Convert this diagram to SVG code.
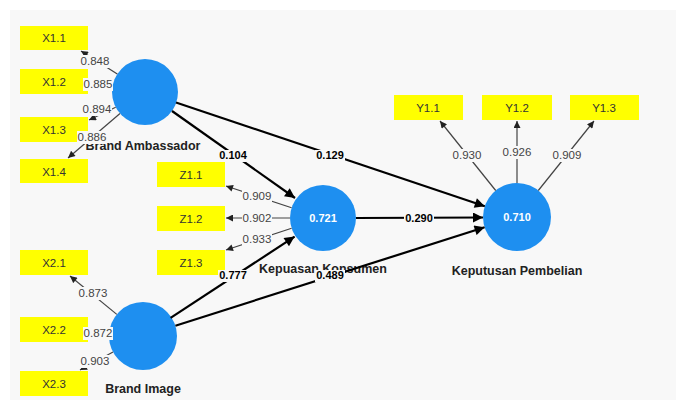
<svg xmlns="http://www.w3.org/2000/svg" width="679" height="412" viewBox="0 0 679 412">
<style>
.bg{fill:#ffffff}
.panel{fill:#f8f8f8}
.ind rect{fill:#ffff00}
.ind text{font-family:"Liberation Sans",Arial,sans-serif;font-size:11.5px;fill:#333;text-anchor:middle}
.lat circle{fill:#1e8ff0}
.lat .val{font-family:"Liberation Sans",Arial,sans-serif;font-size:11px;font-weight:bold;fill:#fff;text-anchor:middle}
.lat .name{font-family:"Liberation Sans",Arial,sans-serif;font-size:12.5px;font-weight:bold;fill:#222;text-anchor:middle}
.outer{stroke:#444;stroke-width:1.2;fill:none;marker-end:url(#ah)}
.inner{stroke:#000;stroke-width:2.2;fill:none;marker-end:url(#ahb)}
.lb{fill:#f8f8f8}
.ol{font-family:"Liberation Sans",Arial,sans-serif;font-size:11.5px;fill:#444;text-anchor:middle}
.il{font-family:"Liberation Sans",Arial,sans-serif;font-size:11px;font-weight:bold;fill:#000;text-anchor:middle}
</style>
<defs>
<marker id="ah" viewBox="0 0 10 10" refX="10" refY="5" markerWidth="8" markerHeight="7" markerUnits="userSpaceOnUse" orient="auto"><path d="M0,0 L10,5 L0,10 Z" fill="#222"/></marker>
<marker id="ahb" viewBox="0 0 10 10" refX="10" refY="5" markerWidth="11" markerHeight="10" markerUnits="userSpaceOnUse" orient="auto"><path d="M0,0 L10,5 L0,10 Z" fill="#000"/></marker>
</defs>
<rect class="bg" x="0" y="0" width="679" height="412"/>
<rect class="panel" x="10" y="10" width="666" height="390"/>

<g id="X1.1" class="ind"><rect x="20" y="26" width="68" height="24"/><text x="54" y="42">X1.1</text></g>
<g id="X1.2" class="ind"><rect x="20" y="69" width="68" height="25"/><text x="54" y="86">X1.2</text></g>
<g id="X1.3" class="ind"><rect x="20" y="117" width="68" height="25"/><text x="54" y="134">X1.3</text></g>
<g id="X1.4" class="ind"><rect x="20" y="159" width="68" height="24"/><text x="54" y="176">X1.4</text></g>
<g id="X2.1" class="ind"><rect x="20" y="250" width="68" height="25"/><text x="54" y="267">X2.1</text></g>
<g id="X2.2" class="ind"><rect x="20" y="317" width="68" height="25"/><text x="54" y="334">X2.2</text></g>
<g id="X2.3" class="ind"><rect x="20" y="371" width="68" height="25"/><text x="54" y="388">X2.3</text></g>
<g id="Z1.1" class="ind"><rect x="157" y="162" width="68" height="25"/><text x="191" y="179">Z1.1</text></g>
<g id="Z1.2" class="ind"><rect x="157" y="206" width="68" height="25"/><text x="191" y="223">Z1.2</text></g>
<g id="Z1.3" class="ind"><rect x="157" y="250" width="68" height="25"/><text x="191" y="267">Z1.3</text></g>
<g id="Y1.1" class="ind"><rect x="394" y="95" width="69" height="25"/><text x="428" y="112">Y1.1</text></g>
<g id="Y1.2" class="ind"><rect x="482" y="95" width="70" height="25"/><text x="517" y="112">Y1.2</text></g>
<g id="Y1.3" class="ind"><rect x="570" y="95" width="69" height="25"/><text x="604" y="112">Y1.3</text></g>

<g id="BrandAmbassador" class="lat"><circle cx="145" cy="92" r="33"/><text class="name" x="143" y="150">Brand Ambassador</text></g>
<g id="BrandImage" class="lat"><circle cx="143" cy="336" r="34"/><text class="name" x="143" y="393">Brand Image</text></g>
<g id="KepuasanKonsumen" class="lat"><circle cx="323" cy="218" r="33"/><text class="val" x="323" y="222">0.721</text><text class="name" x="323" y="273">Kepuasan Konsumen</text></g>
<g id="KeputusanPembelian" class="lat"><circle cx="517" cy="217" r="34"/><text class="val" x="517" y="221">0.710</text><text class="name" x="517" y="275">Keputusan Pembelian</text></g>

<g id="connectors">
<line class="outer" x1="117.3" y1="74" x2="81" y2="51"/>
<line class="outer" x1="112.4" y1="86.8" x2="89" y2="83"/>
<line class="outer" x1="115.7" y1="107.2" x2="89" y2="120"/>
<line class="outer" x1="120" y1="113.5" x2="68" y2="158"/>
<line class="outer" x1="116.8" y1="314.4" x2="70" y2="276"/>
<line class="outer" x1="109.1" y1="332.9" x2="89" y2="331"/>
<line class="outer" x1="113" y1="352" x2="80" y2="370"/>
<line class="outer" x1="291.6" y1="207.7" x2="226" y2="186"/>
<line class="outer" x1="290" y1="218" x2="226" y2="218"/>
<line class="outer" x1="291.6" y1="228.3" x2="226" y2="250"/>
<line class="outer" x1="495.7" y1="190.5" x2="440" y2="121"/>
<line class="outer" x1="517" y1="183" x2="517" y2="121"/>
<line class="outer" x1="538.3" y1="190.5" x2="594" y2="121"/>

<line class="inner" x1="172" y1="111" x2="295" y2="198"/>
<line class="inner" x1="176" y1="102.5" x2="484.8" y2="206.2"/>
<line class="inner" x1="356" y1="218" x2="483" y2="217.5"/>
<line class="inner" x1="170.6" y1="317.9" x2="294.6" y2="236.6"/>
<line class="inner" x1="175.4" y1="325.7" x2="484.6" y2="227.3"/>

<rect class="lb" x="80" y="55" width="30" height="13"/><text class="ol" x="95" y="65">0.848</text>
<rect class="lb" x="83" y="78" width="30" height="13"/><text class="ol" x="98" y="88">0.885</text>
<rect class="lb" x="82" y="103" width="30" height="13"/><text class="ol" x="97" y="113">0.894</text>
<rect class="lb" x="77" y="131" width="30" height="13"/><text class="ol" x="92" y="141">0.886</text>
<rect class="lb" x="78" y="287" width="30" height="13"/><text class="ol" x="93" y="297">0.873</text>
<rect class="lb" x="83" y="327" width="30" height="13"/><text class="ol" x="98" y="337">0.872</text>
<rect class="lb" x="80" y="355" width="30" height="13"/><text class="ol" x="95" y="365">0.903</text>
<rect class="lb" x="242" y="190" width="30" height="13"/><text class="ol" x="257" y="200">0.909</text>
<rect class="lb" x="242" y="212" width="30" height="13"/><text class="ol" x="257" y="222">0.902</text>
<rect class="lb" x="242" y="233" width="30" height="13"/><text class="ol" x="257" y="243">0.933</text>
<rect class="lb" x="452" y="149" width="30" height="13"/><text class="ol" x="467" y="159">0.930</text>
<rect class="lb" x="502" y="146" width="30" height="13"/><text class="ol" x="517" y="156">0.926</text>
<rect class="lb" x="552" y="149" width="30" height="13"/><text class="ol" x="567" y="159">0.909</text>

<rect class="lb" x="218" y="150" width="30" height="12"/><text class="il" x="233" y="159">0.104</text>
<rect class="lb" x="315" y="150" width="30" height="12"/><text class="il" x="330" y="159">0.129</text>
<rect class="lb" x="404" y="213" width="30" height="12"/><text class="il" x="419" y="222">0.290</text>
<rect class="lb" x="218" y="270" width="30" height="12"/><text class="il" x="233" y="279">0.777</text>
<rect class="lb" x="315" y="270" width="30" height="12"/><text class="il" x="330" y="279">0.489</text>
</g>
</svg>
